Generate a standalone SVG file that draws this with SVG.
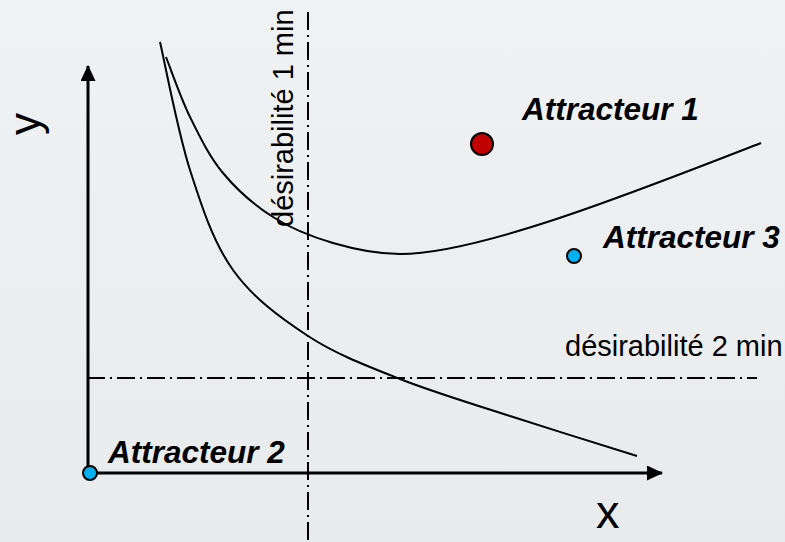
<svg xmlns="http://www.w3.org/2000/svg" width="785" height="542" viewBox="0 0 785 542">
  <defs>
    <linearGradient id="bg" x1="0" y1="0" x2="0" y2="1">
      <stop offset="0" stop-color="#f0f1f3"/>
      <stop offset="0.5" stop-color="#eceef0"/>
      <stop offset="1" stop-color="#e9eaeb"/>
    </linearGradient>
    <marker id="arrow" viewBox="0 0 16 15" refX="15" refY="7.5" markerWidth="16" markerHeight="15" markerUnits="userSpaceOnUse" orient="auto">
      <path d="M0,0 L16,7.5 L0,15 Z" fill="#000"/>
    </marker>
  </defs>
  <style>
    .axis { stroke: #000; stroke-width: 3; fill: none; }
    .curve { stroke: #000; stroke-width: 2; fill: none; }
    .thresh { stroke: #000; stroke-width: 2; fill: none; stroke-dasharray: 18 5 2 5; }
    .lbl { font-family: "Liberation Sans", Arial, sans-serif; font-size: 29px; fill: #000; }
    .att { font-family: "Liberation Sans", Arial, sans-serif; font-size: 31.5px; font-weight: bold; font-style: italic; fill: #000; }
    .axlbl { font-family: "Liberation Sans", Arial, sans-serif; font-size: 47px; fill: #000; }
    .blue { fill: #00b0f0; stroke: #000; stroke-width: 2; }
    .red { fill: #c00000; stroke: #000; stroke-width: 2; }
  </style>
  <rect x="0" y="0" width="785" height="542" fill="url(#bg)"/>

  <g id="thresholds">
    <line class="thresh" x1="308" y1="12" x2="308" y2="542"/>
    <line class="thresh" x1="87" y1="378" x2="757" y2="378"/>
    <text class="lbl" transform="translate(293,227) rotate(-90)">désirabilité 1 min</text>
    <text class="lbl" x="565" y="356">désirabilité 2 min</text>
  </g>

  <g id="connectors">
    <line class="axis" x1="88" y1="473" x2="88" y2="66" marker-end="url(#arrow)"/>
    <line class="axis" x1="88" y1="473" x2="662" y2="473" marker-end="url(#arrow)"/>
  </g>

  <g id="axis-labels">
    <text class="axlbl" style="font-size:44px" transform="translate(40,135) rotate(-90)">y</text>
    <text class="axlbl" x="596" y="528">x</text>
  </g>

  <g id="curves">
    <path id="curve-upper" class="curve" d="M166,57 C170,67 180.5,97.7 190,117 C199.5,136.3 209.2,156.3 223,173 C236.8,189.7 254.7,205.3 273,217 C291.3,228.7 311.8,236.8 333,243 C354.2,249.2 377.7,254 400,254 C480,254 640,190 761,143"/>
    <path id="curve-lower" class="curve" d="M160,42 C165,63.3 177.8,132 190,170 C202.2,208 213.3,242.3 233,270 C252.7,297.7 280.2,317.8 308,336 C335.8,354.2 366.3,365.7 400,379 C433.7,392.3 470.5,403.2 510,416 C549.5,428.8 615.8,449.3 637,456"/>
  </g>

  <g id="attracteur1">
    <circle class="red" cx="482" cy="144" r="11"/>
    <text class="att" x="522" y="120">Attracteur 1</text>
  </g>

  <g id="attracteur2">
    <circle class="blue" cx="90" cy="473" r="7"/>
    <text class="att" x="108" y="463">Attracteur 2</text>
  </g>

  <g id="attracteur3">
    <circle class="blue" cx="574" cy="256" r="7"/>
    <text class="att" x="603" y="248">Attracteur 3</text>
  </g>
</svg>
